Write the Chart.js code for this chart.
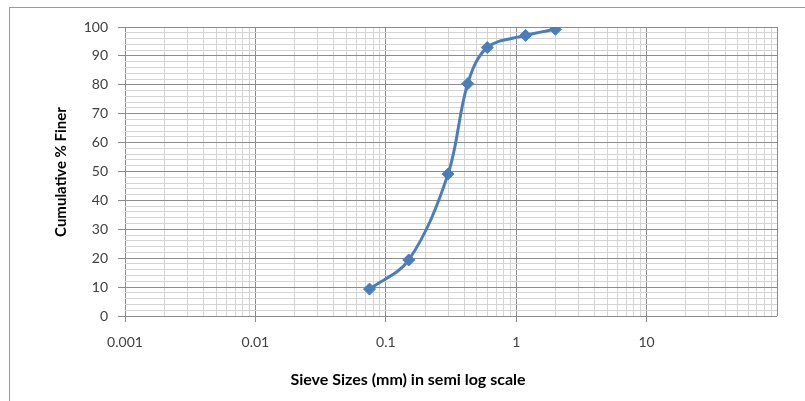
<!DOCTYPE html>
<html>
<head>
<meta charset="utf-8">
<script src="https://cdn.jsdelivr.net/npm/chart.js@4"></script>
<style>
  html, body { margin: 0; padding: 0; background: #fff; }
  #wrap { width: 805px; height: 401px; position: relative; }
</style>
</head>
<body>
<div id="wrap"><canvas id="sieveChart" width="805" height="401"></canvas></div>
<script>
// sieve analysis data
const sieveSizes = [0.075, 0.15, 0.3, 0.425, 0.6, 1.18, 2.0];
const percentFiner = [9.3, 19.4, 49.1, 80.4, 92.9, 97.1, 99.2];
const xTickLabels = ['0.001', '0.01', '0.1', '1', '10'];
const yTickLabels = [0, 10, 20, 30, 40, 50, 60, 70, 80, 90, 100];

const points = sieveSizes.map((s, i) => ({ x: s, y: percentFiner[i] }));

const majorGrid = '#8c8c8c';
const minorGrid = '#d4d4d4';
const font = 'Lato';

function isDecade(v) {
  const l = Math.log10(v);
  return Math.abs(l - Math.round(l)) < 1e-9;
}

// frame + axis titles
const decorations = {
  id: 'decorations',
  beforeDraw(chart) {
    const ctx = chart.ctx;
    ctx.save();
    ctx.fillStyle = '#fff';
    ctx.fillRect(0, 0, chart.width, chart.height);
    ctx.strokeStyle = '#9a9a9a';
    ctx.lineWidth = 1;
    ctx.strokeRect(9.5, 7.5, 900, 500);
    ctx.restore();
  },
  afterDraw(chart) {
    const ctx = chart.ctx;
    ctx.save();
    ctx.fillStyle = '#000';
    ctx.textAlign = 'center';
    ctx.textBaseline = 'middle';
    ctx.font = 'bold 16px ' + font;
    ctx.fillText('Sieve Sizes (mm) in semi log scale', 408, 380);
    ctx.font = 'bold 15px ' + font;
    ctx.translate(61, 172);
    ctx.rotate(-Math.PI / 2);
    ctx.fillText('Cumulative % Finer', 0, 0);
    ctx.restore();
  }
};

new Chart(document.getElementById('sieveChart').getContext('2d'), {
  type: 'line',
  data: {
    datasets: [{
      data: points,
      borderColor: '#4a7ebb',
      backgroundColor: '#4a7ebb',
      borderWidth: 3,
      tension: 0.35,
      pointStyle: 'rectRot',
      pointRadius: 6,
      pointHoverRadius: 6,
      pointBorderWidth: 1,
      fill: false
    }]
  },
  options: {
    responsive: false,
    animation: false,
    layout: { padding: { left: 10, right: 28, top: 27, bottom: 0 } },
    plugins: {
      legend: { display: false },
      tooltip: { enabled: false }
    },
    scales: {
      x: {
        type: 'logarithmic',
        min: 0.001,
        max: 100,
        afterBuildTicks(scale) {
          const ticks = [];
          for (let d = -3; d <= 1; d++) {
            for (let k = 1; k <= 9; k++) {
              ticks.push({ value: Number((k * Math.pow(10, d)).toPrecision(3)) });
            }
          }
          ticks.push({ value: 100 });
          scale.ticks = ticks;
        },
        afterFit(scale) { scale.height = 85; },
        border: { display: false },
        grid: {
          color: c => (c.tick && isDecade(c.tick.value)) ? majorGrid : minorGrid,
          tickColor: c => (c.tick && isDecade(c.tick.value) && c.tick.value < 100) ? majorGrid : 'rgba(0,0,0,0)',
          tickLength: 6
        },
        ticks: {
          autoSkip: false,
          maxRotation: 0,
          padding: 12,
          color: '#404040',
          font: { family: font, size: 14 },
          callback(v) {
            const s = String(v);
            return xTickLabels.includes(s) ? s : '';
          }
        }
      },
      y: {
        min: 0,
        max: 100,
        afterBuildTicks(scale) {
          const ticks = [];
          for (let v = 0; v <= 100; v += 2) ticks.push({ value: v });
          scale.ticks = ticks;
        },
        afterFit(scale) { scale.width = 115; },
        border: { display: false },
        grid: {
          color: c => (c.tick && c.tick.value % 10 === 0) ? majorGrid : minorGrid,
          tickColor: c => (c.tick && c.tick.value % 10 === 0) ? majorGrid : 'rgba(0,0,0,0)',
          tickLength: 7
        },
        ticks: {
          autoSkip: false,
          padding: 10,
          color: '#404040',
          font: { family: font, size: 14 },
          callback(v) {
            return yTickLabels.includes(v) ? String(v) : '';
          }
        }
      }
    }
  },
  plugins: [decorations]
});
</script>
</body>
</html>
